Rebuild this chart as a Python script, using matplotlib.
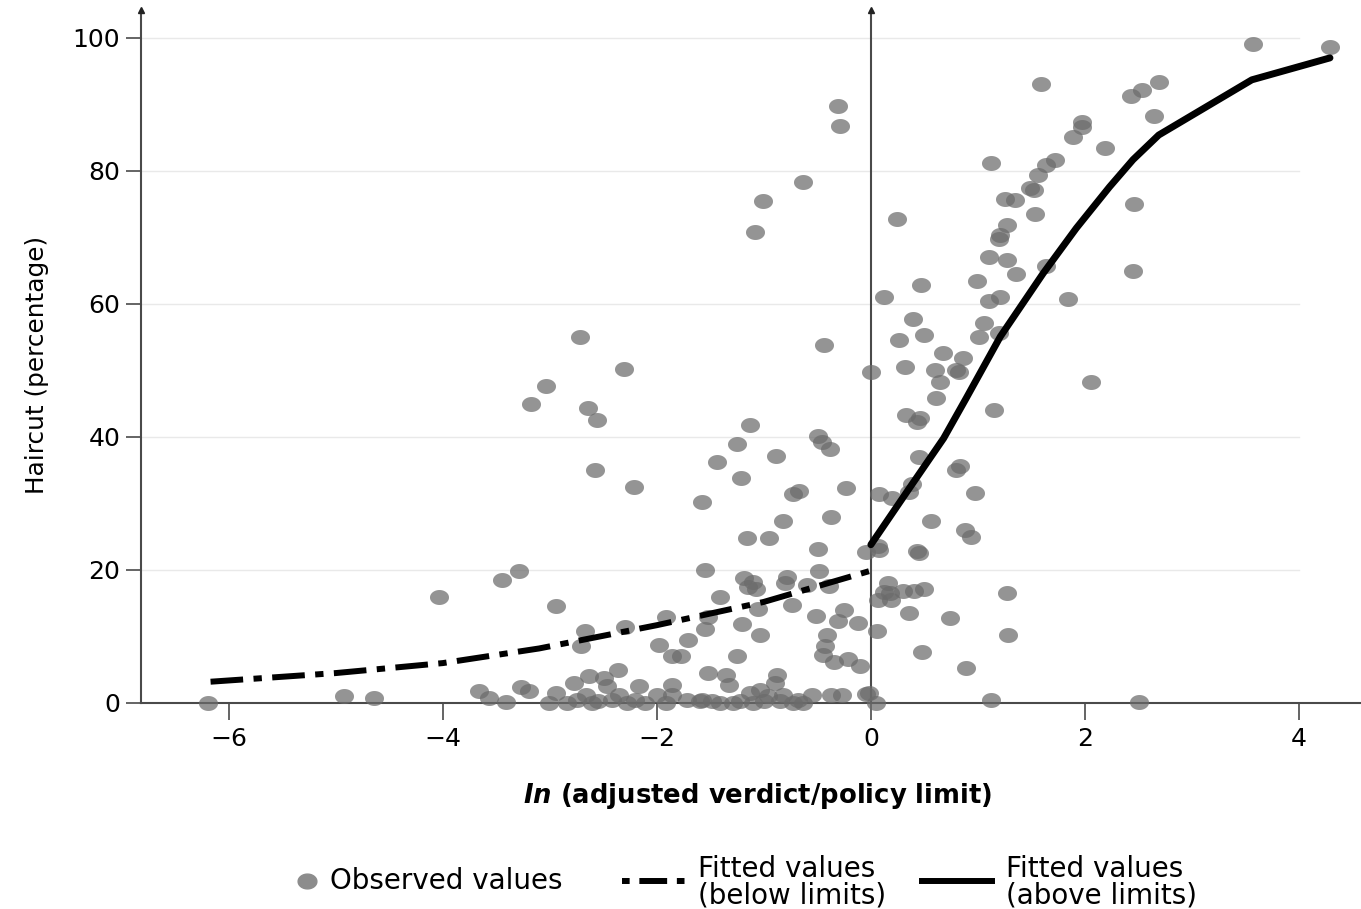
import numpy as np
import matplotlib
matplotlib.use("Agg")
import matplotlib.pyplot as plt
from matplotlib.path import Path
from matplotlib.lines import Line2D

plt.rcParams['font.family'] = ['DejaVu Sans']
plt.rcParams['mathtext.fontset'] = 'custom'
plt.rcParams['mathtext.it'] = 'DejaVu Sans:italic:bold'
plt.rcParams['mathtext.rm'] = 'DejaVu Sans:bold'
plt.rcParams['lines.scale_dashes'] = False

# ---------------- data ----------------
obs_x = [
    -6.19, -4.92, -4.64, -4.04, -3.45, -3.29, -3.18, -3.04, -2.72, -2.64, -2.56, -2.58, -2.31, -2.21,
    -2.94, -3.66, -3.57, -3.41, -3.27, -3.19,
    -2.67, -2.71, -2.30, -1.91, -1.98, -1.86, -1.77, -1.71, -1.55, -1.41, -1.55, -1.52, -1.20, -1.04,
    -1.25, -1.19, -1.10, -1.07, -1.15, -1.05, -0.78, -0.80, -0.74, -0.60, -0.49, -0.48, -0.39, -0.51,
    -0.41, -0.43, -0.45, -0.34, -0.31, -0.25, -0.21, -0.12, -0.10, -0.05,
    -3.01, -2.94, -2.84, -2.77, -2.63, -2.66, -2.61, -2.49, -2.47, -2.36, -2.42, -2.35, -2.28, -2.17,
    -2.11, -2.00, -1.86, -1.86, -1.91, -1.72, -1.58, -1.52, -1.35, -1.33, -1.41, -1.29, -1.13, -1.04,
    -1.10, -0.96, -0.88, -0.90, -0.82, -0.73, -0.63, -0.55, -0.37, -0.27, -0.02, -0.05,
    -1.60, -1.48, -1.22, -1.00, -0.85, -0.68, -2.20, -2.55, -2.75,
    -1.58, -1.13, -1.25, -1.44, -1.21, -0.89, -0.49, -0.46, -0.38, -0.73, -0.67, -0.23, -0.37, -0.82,
    -1.16, -0.95,
    -0.31, -0.29, -0.63, -1.01, -1.08, -0.44, 0.00,
    0.65, 0.61, 0.33, 0.46, 0.43, 1.15, 2.06, 0.45, 0.83, 0.80, 0.97, 0.08, 0.20, 0.38, 0.36, 0.56,
    0.88, 0.94, 0.07, 0.08, 0.43, 0.45, 0.16, 0.12, 0.18, 0.30, 0.40, 0.50, 0.07, 0.19, 1.27, 0.36,
    0.74, 0.06, 1.28, 0.48, 0.89, 0.05, 1.12, 2.51,
    1.12, 1.72, 1.64, 1.56, 1.49, 1.52, 1.25, 1.35, 1.53, 2.46, 0.24, 1.27, 1.21, 1.20, 1.10, 1.27,
    1.64, 1.36, 2.45, 0.99, 0.47, 0.12, 1.10, 1.21, 1.84, 0.39, 1.06, 0.26, 0.50, 1.01, 1.20, 0.67,
    0.86, 0.32, 0.60, 0.80, 0.82,
    3.57, 4.29, 2.69, 2.53, 2.43, 2.65, 2.19, 1.59, 1.97, 1.97, 1.89,
]
obs_y = [
    0.0, 1.0, 0.7, 15.9, 18.5, 19.8, 45.0, 47.7, 55.0, 44.4, 42.6, 35.0, 50.2, 32.5,
    14.6, 1.8, 0.8, 0.2, 2.4, 1.8,
    10.9, 8.6, 11.4, 12.9, 8.7, 7.1, 7.0, 9.5, 20.0, 15.9, 11.1, 12.9, 11.9, 10.2,
    7.1, 18.8, 18.2, 17.2, 17.5, 14.1, 19.0, 18.0, 14.7, 17.7, 23.2, 19.8, 17.6, 13.1,
    10.2, 8.5, 7.2, 6.2, 12.4, 14.0, 6.6, 12.0, 5.6, 22.7,
    0.0, 1.5, 0.0, 3.0, 4.0, 1.2, 0.0, 3.7, 2.5, 5.0, 0.5, 1.2, 0.0, 2.5,
    0.0, 1.2, 2.7, 1.2, 0.0, 0.5, 0.5, 4.5, 4.2, 2.7, 0.0, 0.0, 1.5, 2.0,
    0.0, 1.0, 4.2, 3.0, 1.2, 0.0, 0.0, 1.2, 1.2, 1.2, 1.5, 1.3,
    0.3, 0.3, 0.3, 0.3, 0.3, 0.5, 0.5, 0.3, 0.5,
    30.2, 41.8, 39.0, 36.2, 33.8, 37.1, 40.2, 39.3, 38.2, 31.5, 31.9, 32.3, 28.0, 27.3,
    24.8, 24.8,
    89.8, 86.7, 78.4, 75.5, 70.8, 53.9, 49.8,
    48.2, 45.8, 43.3, 42.9, 42.3, 44.0, 48.2, 37.0, 35.6, 35.1, 31.6, 31.4, 30.8, 32.9, 31.8, 27.4,
    26.0, 25.0, 23.6, 23.0, 22.8, 22.5, 18.0, 16.7, 16.5, 16.9, 16.9, 17.1, 15.5, 15.5, 16.6, 13.5,
    12.8, 10.9, 10.2, 7.6, 5.2, 0.0, 0.5, 0.2,
    81.2, 81.7, 80.9, 79.4, 77.4, 77.1, 75.8, 75.6, 73.6, 75.1, 72.8, 71.9, 70.4, 69.8, 67.1, 66.6,
    65.7, 64.5, 64.9, 63.5, 62.9, 61.1, 60.5, 61.1, 60.8, 57.7, 57.2, 54.6, 55.3, 55.1, 55.6, 52.6,
    51.8, 50.5, 50.0, 50.0, 49.8,
    99.1, 98.6, 93.3, 92.1, 91.3, 88.3, 83.5, 93.1, 86.6, 87.4, 85.1,
]

below_x = [-6.17, -5.0, -4.0, -3.1, -2.0, -1.0, 0.0]
below_y = [3.2, 4.5, 6.0, 8.2, 11.7, 15.2, 19.9]

above_x = [0.0, 0.36, 0.68, 0.89, 1.21, 1.61, 1.92, 2.23, 2.45, 2.69, 3.56, 4.29]
above_y = [23.8, 32.3, 39.8, 45.8, 55.1, 64.6, 71.4, 77.6, 81.7, 85.4, 93.7, 97.0]

x_ticks = [-6, -4, -2, 0, 2, 4]
y_ticks = [0, 20, 40, 60, 80, 100]
x_label_rest = " (adjusted verdict/policy limit)"
y_label = "Haircut (percentage)"
legend_labels = ["Observed values", "Fitted values\n(below limits)", "Fitted values\n(above limits)"]

# ---------------- figure ----------------
W, H = 1361, 909
fig = plt.figure(figsize=(W / 100, H / 100), dpi=100)
ax = fig.add_axes([141 / W, 1 - 703 / H, (W - 141) / W, (703 - 10) / H])
xmin, xmax = -6.82, 4.58
ymin, ymax = 0, 104.2
ax.set_xlim(xmin, xmax)
ax.set_ylim(ymin, ymax)

# elliptical marker
t = np.linspace(0, 2 * np.pi, 60)
ell = Path(np.column_stack([1.27 * np.cos(t), np.sin(t)]), closed=True)

axis_col = '#4a4a4a'
grid_col = '#e9e9e9'
pt_col = '#6b6b6b'

# grid lines (stop at x=4)
for yv in y_ticks[1:]:
    ax.plot([xmin, 4.0], [yv, yv], color=grid_col, lw=1.0, zorder=0)

# vertical line at x = 0
ax.plot([0, 0], [0, ymax], color=axis_col, lw=1.5, zorder=1, clip_on=False)
ax.plot([0], [ymax], marker='^', ms=5, color='#222222', clip_on=False, zorder=5)
ax.plot([0], [1], transform=ax.transAxes, marker='^', ms=5, color='#222222', clip_on=False, zorder=5)

ax.scatter(obs_x, obs_y, marker=ell, s=13.7 ** 2, color=pt_col, alpha=0.72,
           linewidths=0, zorder=3, clip_on=False)

ax.plot(below_x, below_y, color='black', lw=4.3, dashes=(23.5, 7.5, 6.0, 7.5),
        dash_capstyle='butt', zorder=4)
ax.plot(above_x, above_y, color='black', lw=5.0, solid_capstyle='round',
        solid_joinstyle='round', zorder=4)

for s in ['top', 'right']:
    ax.spines[s].set_visible(False)
for s in ['left', 'bottom']:
    ax.spines[s].set_color(axis_col)
    ax.spines[s].set_linewidth(1.5)

ax.set_xticks(x_ticks)
ax.set_yticks(y_ticks)
ax.set_xticklabels([str(v).replace('-', '\u2212') for v in x_ticks])
ax.set_yticklabels([str(v) for v in y_ticks])
ax.tick_params(axis='x', direction='out', length=12, width=1.2, color=axis_col,
               labelsize=18, pad=5)
ax.tick_params(axis='y', direction='out', length=11, width=1.2, color=axis_col,
               labelsize=18, pad=4)

fig.text(0.5 * (515 + 1000) / W, 1 - 796 / H, r'$In$' + x_label_rest,
         ha='center', va='center', fontsize=18.6, fontweight='bold')
fig.text(37 / W, 1 - 365 / H, y_label, rotation=90, ha='center', va='center',
         fontsize=17.8)

# ---------------- manual legend ----------------
def fx(px):
    return px / W

def fy(py):
    return 1 - py / H

ly = 881
lfs = 20
fig.add_artist(Line2D([fx(307)], [fy(ly)], ls='none', marker=ell, ms=13.5,
                      color='#8c8c8c', transform=fig.transFigure))
fig.text(fx(330), fy(ly), legend_labels[0], ha='left', va='center', fontsize=lfs)
fig.add_artist(Line2D([fx(622), fx(686)], [fy(ly), fy(ly)], color='black', lw=4.3,
                      dashes=(5.5, 7.0, 20.0, 7.0), transform=fig.transFigure))
fig.text(fx(698), fy(ly + 1), legend_labels[1], ha='left', va='center', fontsize=lfs,
         linespacing=0.92)
fig.add_artist(Line2D([fx(922), fx(992)], [fy(ly), fy(ly)], color='black', lw=4.3,
                      transform=fig.transFigure))
fig.text(fx(1006), fy(ly + 1), legend_labels[2], ha='left', va='center', fontsize=lfs,
         linespacing=0.92)

fig.savefig('out.png', dpi=100)
